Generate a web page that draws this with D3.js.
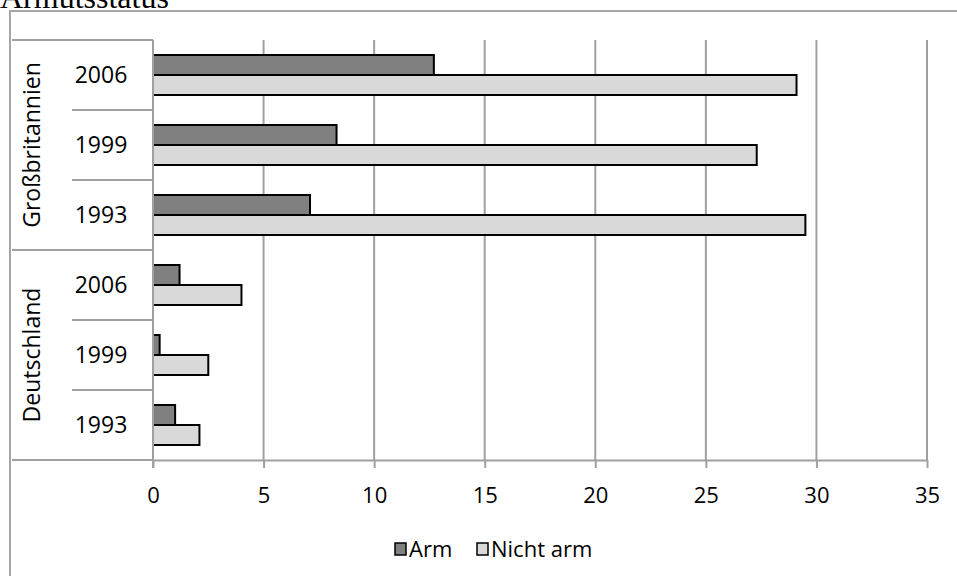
<!DOCTYPE html>
<html>
<head>
<meta charset="utf-8">
<script src="https://cdn.jsdelivr.net/npm/d3@7"></script>
<style>
  body { margin: 0; background: #fff; }
  svg text { font-family: "Open Sans", sans-serif; fill: #000; }
</style>
</head>
<body>
<div id="chart"></div>
<script>
// Armutsstatus - Arm / Nicht arm nach Land und Jahr
var groups = ["Großbritannien", "Deutschland"];
var years = ["2006", "1999", "1993"];
var series = ["Arm", "Nicht arm"];
var armValues = [12.7, 8.3, 7.1, 1.2, 0.3, 1.0];
var nichtArmValues = [29.1, 27.3, 29.5, 4.0, 2.5, 2.1];
var xTicks = [0, 5, 10, 15, 20, 25, 30, 35];

var width = 957, height = 576;
var plot = {left: 153, right: 927, top: 40, bottom: 460};
var colors = {"Arm": "#808080", "Nicht arm": "#d9d9d9"};
var lineGray = "#a0a0a0";

// one row per land/jahr, top to bottom
var rows = [];
groups.forEach(function(g) {
  years.forEach(function(y) {
    rows.push({group: g, year: y, key: g + "-" + y});
  });
});
rows.forEach(function(r, i) {
  r.values = {"Arm": armValues[i], "Nicht arm": nichtArmValues[i]};
});

var svg = d3.select("#chart")
            .append("svg")
            .attr("width", width)
            .attr("height", height);

// title, mostly cut off at the top (as in the original)
svg.append("text")
   .attr("x", 0)
   .attr("y", 8)
   .style("font-family", "'Liberation Serif', 'Times New Roman', serif")
   .style("font-size", "32px")
   .text("Armutsstatus");

// outer frame (top and left edges only visible)
svg.append("path")
   .attr("d", "M10,576 V11 H957")
   .attr("fill", "none")
   .attr("stroke", "#a6a6a6")
   .attr("stroke-width", 2);

var x = d3.scaleLinear().domain([0, 35]).range([plot.left, plot.right]);
var y = d3.scaleBand()
          .domain(rows.map(function(d) { return d.key; }))
          .range([plot.top, plot.bottom])
          .paddingInner(30 / 70)
          .paddingOuter(15 / 70);
var ySub = d3.scaleBand().domain(series).range([0, y.bandwidth()]);

// vertical gridlines
svg.append("g")
   .selectAll("line")
   .data(xTicks.slice(1))
   .enter().append("line")
   .attr("x1", function(d) { return x(d); })
   .attr("x2", function(d) { return x(d); })
   .attr("y1", plot.top)
   .attr("y2", plot.bottom)
   .attr("stroke", lineGray)
   .attr("stroke-width", 2);

// x axis
var xAxis = svg.append("g")
   .attr("transform", "translate(0," + plot.bottom + ")")
   .call(d3.axisBottom(x).tickValues(xTicks).tickSizeInner(8).tickSizeOuter(0).tickPadding(19));
xAxis.select(".domain").attr("stroke", lineGray).attr("stroke-width", 2);
xAxis.selectAll(".tick line").attr("stroke", lineGray).attr("stroke-width", 2);
xAxis.selectAll(".tick text")
     .style("font-family", "'Open Sans', sans-serif")
     .style("font-size", "22px");

// bars
var rowG = svg.append("g")
   .selectAll("g")
   .data(rows)
   .enter().append("g")
   .attr("transform", function(d) { return "translate(0," + y(d.key) + ")"; });

rowG.selectAll("rect")
    .data(function(d) { return series.map(function(s) { return {series: s, value: d.values[s]}; }); })
    .enter().append("rect")
    .attr("x", x(0))
    .attr("y", function(d) { return ySub(d.series); })
    .attr("width", function(d) { return x(d.value) - x(0); })
    .attr("height", ySub.bandwidth())
    .attr("fill", function(d) { return colors[d.series]; })
    .attr("stroke", "#000")
    .attr("stroke-width", 2);

// category axis: vertical line at 0
svg.append("line")
   .attr("x1", x(0)).attr("x2", x(0))
   .attr("y1", plot.top).attr("y2", plot.bottom + 8)
   .attr("stroke", lineGray)
   .attr("stroke-width", 2);

// separators between years and groups
var step = y.step();
var sepLines = [];
for (var i = 0; i <= rows.length; i++) {
  var isGroupEdge = (i % years.length == 0);
  sepLines.push({y: plot.top + i * step, x1: isGroupEdge ? 12 : 72});
}
svg.append("g")
   .selectAll("line")
   .data(sepLines)
   .enter().append("line")
   .attr("x1", function(d) { return d.x1; })
   .attr("x2", x(0))
   .attr("y1", function(d) { return d.y; })
   .attr("y2", function(d) { return d.y; })
   .attr("stroke", lineGray)
   .attr("stroke-width", 2);

// year labels
svg.append("g")
   .selectAll("text")
   .data(rows)
   .enter().append("text")
   .attr("x", 101)
   .attr("y", function(d) { return y(d.key) + y.bandwidth() / 2; })
   .attr("dy", "0.36em")
   .style("text-anchor", "middle")
   .style("font-size", "23px")
   .text(function(d) { return d.year; });

// group labels, rotated
svg.append("g")
   .selectAll("text")
   .data(groups)
   .enter().append("text")
   .attr("transform", function(d, i) {
     var cy = plot.top + (i * years.length + years.length / 2) * step;
     return "translate(32," + cy + ") rotate(-90)";
   })
   .attr("dy", "0.36em")
   .style("text-anchor", "middle")
   .style("font-size", "23px")
   .text(function(d) { return d; });

// legend
var legendItems = [{name: "Arm", sx: 395}, {name: "Nicht arm", sx: 477}];
var legend = svg.append("g")
   .selectAll("g")
   .data(legendItems)
   .enter().append("g")
   .attr("transform", function(d) { return "translate(" + d.sx + ",549)"; });

legend.append("rect")
      .attr("x", 0)
      .attr("y", -6)
      .attr("width", 11)
      .attr("height", 12)
      .attr("fill", function(d) { return colors[d.name]; })
      .attr("stroke", "#000")
      .attr("stroke-width", 1.5);

legend.append("text")
      .attr("x", 14)
      .attr("dy", "0.36em")
      .style("font-size", "22px")
      .text(function(d) { return d.name; });
</script>
</body>
</html>
